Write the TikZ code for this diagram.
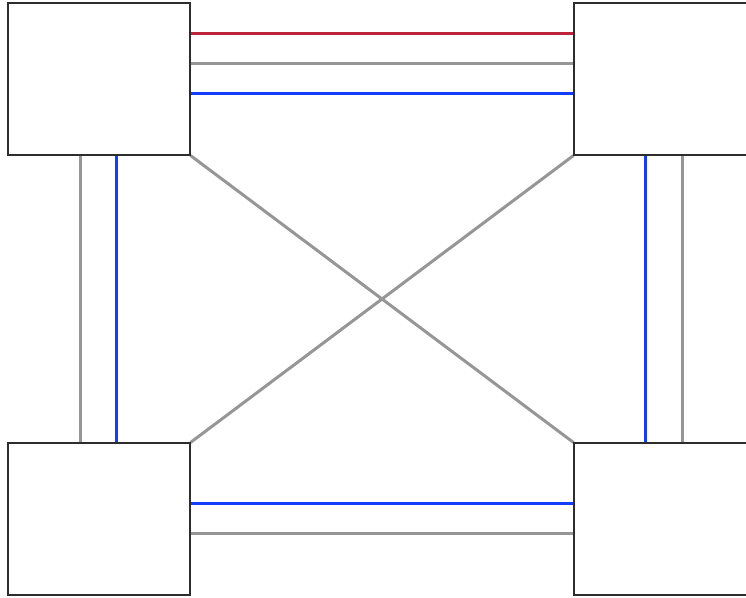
\documentclass[tikz,border=0pt]{standalone}
\usepackage{tikz}
\definecolor{linkred}{RGB}{190,35,60}
\definecolor{linkgray}{RGB}{150,150,150}
\definecolor{linkblue}{RGB}{20,60,255}
\definecolor{boxline}{RGB}{45,45,45}
\begin{document}
\begin{tikzpicture}[x=1pt,y=-1pt,
  site/.style={draw=boxline,line width=1.2pt,fill=white,rectangle,inner sep=0pt,minimum width=182pt,minimum height=152pt},
  red link/.style={draw=linkred,line width=3pt},
  gray link/.style={draw=linkgray,line width=3pt},
  blue link/.style={draw=linkblue,line width=3pt}]
\useasboundingbox (0,0) rectangle (746,597);
\node[site] (tl) at (99,79) {};\node[site] (tr) at (665,79) {};
\node[site] (bl) at (99,519) {};\node[site] (br) at (665,519) {};
% top pair
\draw[red link] ([yshift=46]tl.east)--([yshift=46]tr.west);
\draw[gray link] ([yshift=16]tl.east)--([yshift=16]tr.west);
\draw[blue link] ([yshift=-14]tl.east)--([yshift=-14]tr.west);
% bottom pair
\draw[blue link] ([yshift=16]bl.east)--([yshift=16]br.west);
\draw[gray link] ([yshift=-14]bl.east)--([yshift=-14]br.west);
% left and right columns
\draw[gray link] ([xshift=-19]tl.south)--([xshift=-19]bl.north);
\draw[blue link] ([xshift=17]tl.south)--([xshift=17]bl.north);
\draw[blue link] ([xshift=-20]tr.south)--([xshift=-20]br.north);
\draw[gray link] ([xshift=17]tr.south)--([xshift=17]br.north);
% cross
\draw[gray link] (tl.south east)--(br.north west);
\draw[gray link] (tr.south west)--(bl.north east);
% redraw borders on top
\foreach \s in {tl,tr,bl,br}
  \draw[boxline,line width=1.2pt] (\s.south west) rectangle (\s.north east);
\end{tikzpicture}
\end{document}
